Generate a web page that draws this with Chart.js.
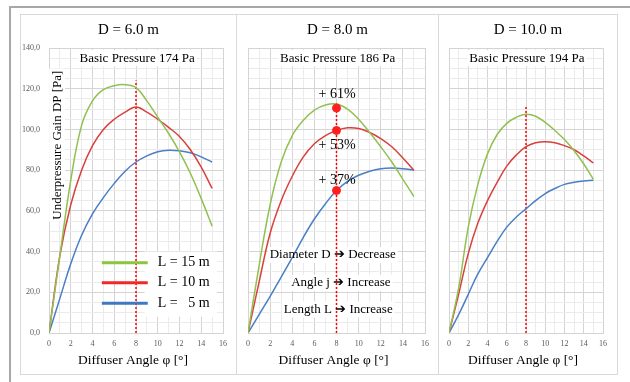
<!DOCTYPE html>
<html>
<head>
<meta charset="utf-8">
<script src="https://cdn.jsdelivr.net/npm/chart.js@4.4.0/dist/chart.umd.min.js"></script>
<style>
body{margin:0;background:#fff;width:630px;height:382px;overflow:hidden;position:relative}
#frame{position:absolute;left:9px;top:6px;width:640px;height:400px;border-left:2px solid #a8a8a8;border-top:2px solid #a8a8a8}
.panel{position:absolute;top:14px;height:361px;border:1px solid #d9d9d9;box-sizing:border-box}
canvas{position:absolute;top:14px}
</style>
</head>
<body>
<div id="frame"></div>
<div class="panel" style="left:20px;width:217px"></div>
<div class="panel" style="left:236px;width:203px"></div>
<div class="panel" style="left:438px;width:180px"></div>
<canvas id="c1" width="217" height="354" style="left:20px"></canvas>
<canvas id="c2" width="203" height="354" style="left:236px"></canvas>
<canvas id="c3" width="180" height="354" style="left:438px"></canvas>
<script>
// diffuser angle in degrees
var angles = [0,1,2,3,4,5,6,7,8,9,10,11,12,13,14,15];

// underpressure gain [Pa], one array per diameter and length
var d6_L15 = [0,38,75,102,114,119.5,121.5,122,120.5,114,106,98,89,78.5,66,52.5];
var d6_L10 = [0,38,63,80,92,100,105,108.5,111,108.5,105,101,96.5,90,81.5,71];
var d6_L5  = [0,17,34,48,58.5,66.5,73.5,79.5,84,87,89,89.8,89.5,88.5,86.5,84];

var d8_L15 = [0,33,63,84,97,104.5,109.5,112,112.5,110,105,98.5,91.5,84,75.5,67];
var d8_L10 = [0,25,49,65,77,86.5,93,97,99.5,100.8,100.5,98.5,95.5,91.5,86,80];
var d8_L5  = [0,9,18,27.5,37,47,56,63.5,70,74.5,77.5,79.5,80.7,81,80.7,80];

var d10_L15 = [0,22,52,73,88,97.5,103,106,107.5,106.5,103.5,99.5,95,89.5,83,75.5];
var d10_L10 = [0,19,39,54,65,74,82,87.5,91.5,93.5,94,93.5,92,90,87,83.5];
var d10_L5  = [0,9,19,29,37,45,52,57,61,65,68.5,71,73,74,74.7,75];

var seriesLabels = ["L = 15 m", "L = 10 m", "L =   5 m"];
var panelTitles = ["D = 6.0 m", "D = 8.0 m", "D = 10.0 m"];
var basicPressure = [174, 186, 194];

// red dotted line at the chosen angle
var markerAngle = 8;
var markerTop = [124, 113, 111.5];

// marked points and gains in the D = 8 m chart
var gainValues = [110.5, 99.5, 70];
var gainLabels = ["+ 61%", "+ 53%", "+ 37%"];
var trendLabels = ["Diameter D \u2794 Decrease", "Angle j \u2794 Increase", "Length L \u2794 Increase"];

var colors = ["#92c050", "#d9403c", "#4a7ec4"];
var serif = "'Liberation Serif', 'Times New Roman', serif";

function pts(vals) {
  return vals.map(function (v, i) { return {x: angles[i], y: v}; });
}

function putText(ctx, txt, x, y, size, align, bg) {
  ctx.save();
  ctx.font = size + "px " + serif;
  ctx.textAlign = align || "center";
  ctx.textBaseline = "middle";
  ctx.fillStyle = "#000";
  ctx.fillText(txt, x, y);
  ctx.restore();
}

// titles, notes and legend drawn on the canvas
var notesPlugin = {
  id: "notes",
  beforeDatasetsDraw: function (chart) {
    var o = chart.options.plugins.notes;
    var ctx = chart.ctx, xs = chart.scales.x, ys = chart.scales.y;
    ctx.save();
    ctx.fillStyle = "#fff";
    ctx.font = "13px " + serif;
    var bw = ctx.measureText("Basic Pressure " + basicPressure[o.idx] + " Pa").width;
    ctx.fillRect(xs.getPixelForValue(8.1) - bw / 2 - 2, ys.getPixelForValue(135) - 8, bw + 4, 16);
    if (o.idx === 0) {
      // y axis title box
      ctx.font = "13px " + serif;
      var tw = ctx.measureText("Underpressure Gain DP [Pa]").width;
      ctx.fillRect(xs.getPixelForValue(0.75) - 8, ys.getPixelForValue(92.3) - tw / 2 - 2, 16, tw + 4);
      // legend box
      ctx.fillRect(xs.getPixelForValue(8.8), ys.getPixelForValue(40), 72, ys.getPixelForValue(8) - ys.getPixelForValue(40));
    }
    if (o.idx === 1) {
      ctx.font = "13px " + serif;
      [[7.66, 38.3], [8.4, 24.6], [8.16, 11.6]].forEach(function (p, i) {
        var w = ctx.measureText(trendLabels[i]).width;
        ctx.fillRect(xs.getPixelForValue(p[0]) - w / 2 - 2, ys.getPixelForValue(p[1]) - 8, w + 4, 16);
      });
    }
    ctx.restore();
  },
  afterDatasetsDraw: function (chart) {
    var o = chart.options.plugins.notes;
    var ctx = chart.ctx, xs = chart.scales.x, ys = chart.scales.y;
    putText(ctx, panelTitles[o.idx], chart.width / 2, 16, 15);
    putText(ctx, "Basic Pressure " + basicPressure[o.idx] + " Pa", xs.getPixelForValue(8.1), ys.getPixelForValue(135), 13);
    putText(ctx, "Diffuser Angle \u03c6 [\u00b0]", (xs.left + xs.right) / 2 - 3, 346, 13.5);
    if (o.idx === 0) {
      ctx.save();
      ctx.translate(xs.getPixelForValue(0.75), ys.getPixelForValue(92.3));
      ctx.rotate(-Math.PI / 2);
      putText(ctx, "Underpressure Gain DP [Pa]", 0, 0, 13);
      ctx.restore();
      // legend
      [34.5, 24.7, 14.6].forEach(function (v, i) {
        var y = ys.getPixelForValue(v);
        ctx.save();
        ctx.strokeStyle = i === 1 ? "#f02828" : (i === 0 ? "#8cc63f" : "#3f78c0");
        ctx.lineWidth = 3;
        ctx.beginPath();
        ctx.moveTo(xs.getPixelForValue(4.86), y);
        ctx.lineTo(xs.getPixelForValue(9.08), y);
        ctx.stroke();
        ctx.restore();
        putText(ctx, seriesLabels[i], xs.getPixelForValue(10.0), y, 14, "left");
      });
    }
    if (o.idx === 1) {
      [117, 92, 75].forEach(function (v, i) {
        putText(ctx, gainLabels[i], xs.getPixelForValue(8.05), ys.getPixelForValue(v), 14);
      });
      [[7.66, 38.3], [8.4, 24.6], [8.16, 11.6]].forEach(function (p, i) {
        putText(ctx, trendLabels[i], xs.getPixelForValue(p[0]), ys.getPixelForValue(p[1]), 13);
      });
    }
  }
};

function makeChart(id, idx, series, axisW, padRight) {
  var datasets = series.map(function (s, i) {
    return {
      label: seriesLabels[i],
      data: pts(s),
      borderColor: colors[i],
      borderWidth: 1.5,
      pointRadius: 0,
      tension: 0.4,
      fill: false
    };
  });
  datasets.push({
    label: "marker",
    data: [{x: markerAngle, y: 0}, {x: markerAngle, y: markerTop[idx]}],
    borderColor: "#ff0000",
    borderWidth: 1.5,
    borderDash: [2, 2],
    pointRadius: 0
  });
  if (idx === 1) {
    datasets.unshift({
      label: "points",
      data: gainValues.map(function (v) { return {x: markerAngle, y: v}; }),
      showLine: false,
      pointRadius: 4,
      pointBackgroundColor: "#ff1f1f",
      pointBorderColor: "#ff1f1f"
    });
  }
  return new Chart(document.getElementById(id), {
    type: "line",
    data: {datasets: datasets},
    plugins: [notesPlugin],
    options: {
      responsive: false,
      animation: false,
      layout: {padding: {top: 34, right: padRight, left: 0, bottom: 0}},
      plugins: {legend: {display: false}, tooltip: {enabled: false}, notes: {idx: idx}},
      scales: {
        x: {
          type: "linear", min: 0, max: 16,
          afterFit: function (s) { s.height = 35; },
          ticks: {
            stepSize: 1, autoSkip: false, maxRotation: 0, padding: 6,
            color: "#595959", font: {family: serif, size: 8},
            callback: function (v) { return v % 2 === 0 ? v : ""; }
          },
          grid: {
            drawTicks: false,
            color: function (c) { return c.tick && c.tick.value % 2 === 0 ? "#d4d4d4" : "#ebebeb"; }
          },
          border: {color: "#d4d4d4"}
        },
        y: {
          min: 0, max: 140,
          afterFit: function (s) { s.width = axisW; },
          ticks: {
            display: idx === 0,
            stepSize: 5, autoSkip: false, padding: 9,
            color: "#595959", font: {family: serif, size: 8},
            callback: function (v) { return v % 20 === 0 ? v.toFixed(1).replace(".", ",") : ""; }
          },
          grid: {
            drawTicks: false,
            color: function (c) { return c.tick && c.tick.value % 20 === 0 ? "#d4d4d4" : "#ebebeb"; }
          },
          border: {color: "#d4d4d4"}
        }
      }
    }
  });
}

makeChart("c1", 0, [d6_L15, d6_L10, d6_L5], 29, 14);
makeChart("c2", 1, [d8_L15, d8_L10, d8_L5], 12, 14);
makeChart("c3", 2, [d10_L15, d10_L10, d10_L5], 11, 15);
</script>
</body>
</html>
